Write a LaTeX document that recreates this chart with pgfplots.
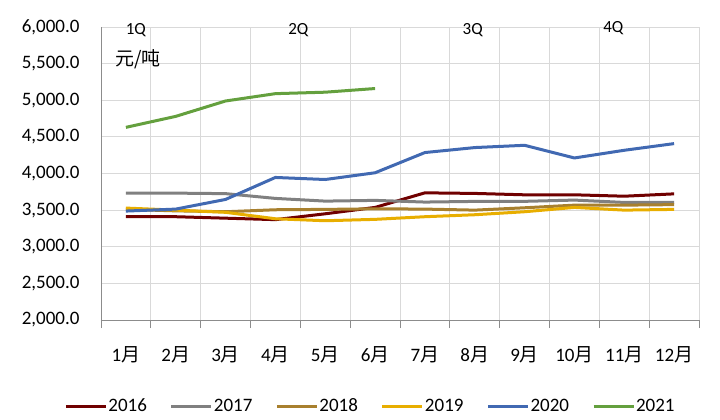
\documentclass[border=0pt]{standalone}
\usepackage{pgfplots}
\pgfplotsset{compat=1.18}
\usepackage{fontspec}
\setmainfont{Carlito}
\newfontfamily\cjk{Noto Sans CJK SC}
\newcommand\fs{\fontsize{19bp}{22bp}\selectfont}
\definecolor{c16}{HTML}{700000}
\definecolor{c17}{HTML}{808080}
\definecolor{c18}{HTML}{A8802E}
\definecolor{c19}{HTML}{E8AE00}
\definecolor{c20}{HTML}{4169B2}
\definecolor{c21}{HTML}{64A03E}
\definecolor{gridc}{HTML}{D9D9D9}
\definecolor{axc}{HTML}{8C8C8C}
\begin{document}
\begin{tikzpicture}
\path[use as bounding box] (-101bp,-100bp) rectangle (619bp,320bp);
\begin{axis}[
  at={(0,0)}, anchor=south west,
  scale only axis, width=598bp, height=293bp,
  xmin=0.5, xmax=12.5, ymin=2000, ymax=6000,
  xtick={1,...,12},
  xticklabels={1{\cjk 月},2{\cjk 月},3{\cjk 月},4{\cjk 月},5{\cjk 月},6{\cjk 月},7{\cjk 月},8{\cjk 月},9{\cjk 月},10{\cjk 月},11{\cjk 月},12{\cjk 月}},
  minor xtick={0.5,1.5,...,12.5},
  ytick={2000,2500,...,6000},
  axis x line*=bottom, axis y line*=left,
  axis line style={axc, line width=0.8bp, -},
  major tick length=0pt, minor tick length=8bp,
  tick align=outside,
  minor tick style={axc, line width=0.8bp},
  xminorgrids, ymajorgrids,
  minor grid style={gridc, line width=0.8bp},
  major grid style={gridc, line width=0.8bp},
  ticklabel style={font=\fs, text=black},
  xticklabel style={yshift=-23bp},
  yticklabel style={xshift=-18bp},
  /pgf/number format/.cd, fixed, fixed zerofill, precision=1, 1000 sep={,}, assume math mode=true,
  /pgfplots/.cd,
  clip=false,
  legend columns=6,
  legend style={draw=none, fill=none, at={(269bp,-86bp)}, anchor=center, font=\fs,
    /tikz/every even column/.append style={column sep=22bp},
    nodes={inner xsep=1bp, inner ysep=1bp}},
  legend image code/.code={\draw[#1, line width=3bp] (0bp,0bp) -- (40bp,0bp);},
  every axis plot/.append style={line width=3bp, line join=round, no markers},
]
\addplot[c16] coordinates {(1,3410) (2,3410) (3,3390) (4,3370) (5,3450) (6,3537) (7,3736) (8,3728) (9,3709) (10,3709) (11,3690) (12,3722)};
\addlegendentry{2016}
\addplot[c17] coordinates {(1,3732) (2,3732) (3,3725) (4,3660) (5,3623) (6,3633) (7,3610) (8,3619) (9,3620) (10,3637) (11,3605) (12,3605)};
\addlegendentry{2017}
\addplot[c18] coordinates {(1,3510) (2,3490) (3,3478) (4,3505) (5,3510) (6,3518) (7,3514) (8,3500) (9,3532) (10,3568) (11,3568) (12,3575)};
\addlegendentry{2018}
\addplot[c19] coordinates {(1,3528) (2,3500) (3,3470) (4,3382) (5,3355) (6,3374) (7,3410) (8,3437) (9,3478) (10,3537) (11,3500) (12,3510)};
\addlegendentry{2019}
\addplot[c20] coordinates {(1,3487) (2,3514) (3,3646) (4,3946) (5,3918) (6,4010) (7,4286) (8,4354) (9,4385) (10,4212) (11,4317) (12,4408)};
\addlegendentry{2020}
\addplot[c21] coordinates {(1,4630) (2,4780) (3,4990) (4,5090) (5,5110) (6,5160)};
\addlegendentry{2021}
\node[font=\fontsize{17bp}{20bp}\selectfont] at (axis cs:1.2,5963) {1Q};
\node[font=\fontsize{17bp}{20bp}\selectfont] at (axis cs:4.46,5963) {2Q};
\node[font=\fontsize{17bp}{20bp}\selectfont] at (axis cs:7.96,5963) {3Q};
\node[font=\fontsize{17bp}{20bp}\selectfont] at (axis cs:10.78,5990) {4Q};
\node[font=\fs] at (axis cs:1.24,5555) {{\cjk 元/吨}};
\end{axis}
\end{tikzpicture}
\end{document}
